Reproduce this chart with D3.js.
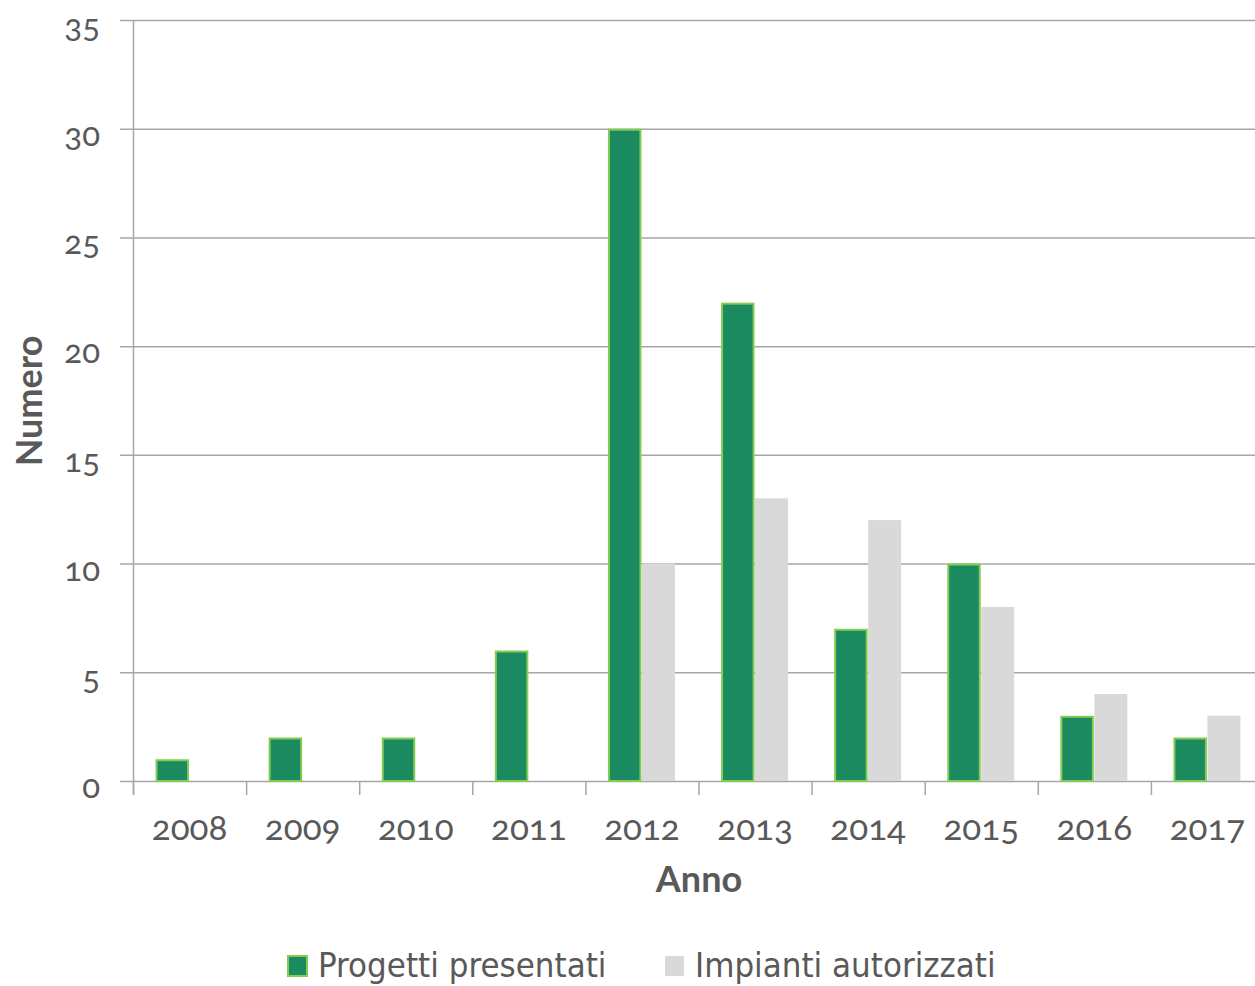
<!DOCTYPE html>
<html>
<head>
<meta charset="utf-8">
<script src="https://cdn.jsdelivr.net/npm/d3@7/dist/d3.min.js"></script>
<style>
  html, body { margin: 0; padding: 0; background: #fff; }
  svg text { font-family: Lato, "Open Sans", sans-serif; fill: #595959; }
  .num { font-variant-numeric: oldstyle-nums; font-feature-settings: "onum" 1; }
  .legend text { font-family: "Liberation Sans Narrow", "DejaVu Sans Condensed", "Open Sans", sans-serif; font-stretch: condensed; }
</style>
</head>
<body>
<svg id="chart" width="1255" height="986"></svg>
<script>
// Yearly counts
const years = ["2008", "2009", "2010", "2011", "2012", "2013", "2014", "2015", "2016", "2017"];
const progettiPresentati = [1, 2, 2, 6, 30, 22, 7, 10, 3, 2];
const impiantiAutorizzati = [0, 0, 0, 0, 10, 13, 12, 8, 4, 3];
const seriesNames = ["Progetti presentati", "Impianti autorizzati"];
const yTicks = [0, 5, 10, 15, 20, 25, 30, 35];

const svg = d3.select("#chart");
const W = 1255, H = 986;
const x0 = 133, yTop = 20, yBottom = 781;

// The last band runs past the right edge of the page
const x = d3.scaleBand().domain(years).range([x0, x0 + 1131]).paddingInner(0).paddingOuter(0);
const y = d3.scaleLinear().domain([0, 35]).range([yBottom, yTop]);
const barW = 33;

// Horizontal gridlines with left ticks
const grid = svg.append("g");
grid.selectAll("line").data(yTicks).join("line")
  .attr("x1", 120).attr("x2", W)
  .attr("y1", d => y(d) + 0.5).attr("y2", d => y(d) + 0.5)
  .attr("stroke", "#a6a6a6").attr("stroke-width", 1.5);

// Y axis line
svg.append("line")
  .attr("x1", x0 + 0.5).attr("x2", x0 + 0.5)
  .attr("y1", yTop).attr("y2", yBottom + 14)
  .attr("stroke", "#a6a6a6").attr("stroke-width", 1.5);

// X tick marks at band boundaries
svg.append("g").selectAll("line").data(years).join("line")
  .attr("x1", d => x(d) + 0.5).attr("x2", d => x(d) + 0.5)
  .attr("y1", yBottom).attr("y2", yBottom + 14)
  .attr("stroke", "#a6a6a6").attr("stroke-width", 1.5);

// Y tick labels
svg.append("g").selectAll("text").data(yTicks).join("text")
  .attr("class", "num")
  .attr("x", 100).attr("y", d => y(d) + 17)
  .attr("text-anchor", "end")
  .attr("font-size", 33)
  .text(d => d);

// Bars
const bars = svg.append("g");
years.forEach((yr, i) => {
  const c = x(yr) + x.bandwidth() / 2;
  const g = progettiPresentati[i];
  bars.append("rect")
    .attr("x", c - barW).attr("width", barW - 1.5)
    .attr("y", y(g) + 1).attr("height", Math.max(0, y(0) - y(g) - 1))
    .attr("fill", "#1b8a60").attr("stroke", "#82cc52").attr("stroke-width", 2);
  const a = impiantiAutorizzati[i];
  if (a > 0) {
    bars.append("rect")
      .attr("x", c).attr("width", barW)
      .attr("y", y(a)).attr("height", y(0) - y(a))
      .attr("fill", "#d9d9d9");
  }
});

// X tick labels
svg.append("g").selectAll("text").data(years).join("text")
  .attr("class", "num")
  .attr("x", d => x(d) + x.bandwidth() / 2)
  .attr("y", 840)
  .attr("text-anchor", "middle")
  .attr("font-size", 35)
  .text(d => d);

// Axis titles
svg.append("text")
  .attr("x", 699).attr("y", 892)
  .attr("text-anchor", "middle")
  .attr("font-size", 36).attr("font-weight", "bold")
  .text("Anno");
svg.append("text")
  .attr("transform", "translate(42,401) rotate(-90)")
  .attr("text-anchor", "middle")
  .attr("font-size", 36).attr("font-weight", "bold")
  .text("Numero");

// Legend
const legend = svg.append("g").attr("class", "legend");
const legendItems = [
  { name: seriesNames[0], x: 287, fill: "#1b8a60", stroke: "#82cc52" },
  { name: seriesNames[1], x: 664, fill: "#d9d9d9", stroke: "none" }
];
legendItems.forEach(it => {
  legend.append("rect")
    .attr("x", it.x + 1).attr("y", 956).attr("width", 19).attr("height", 20)
    .attr("fill", it.fill).attr("stroke", it.stroke).attr("stroke-width", 2);
  legend.append("text")
    .attr("x", it.x + 31).attr("y", 977)
    .attr("font-size", 34.5)
    .text(it.name);
});
</script>
</body>
</html>
